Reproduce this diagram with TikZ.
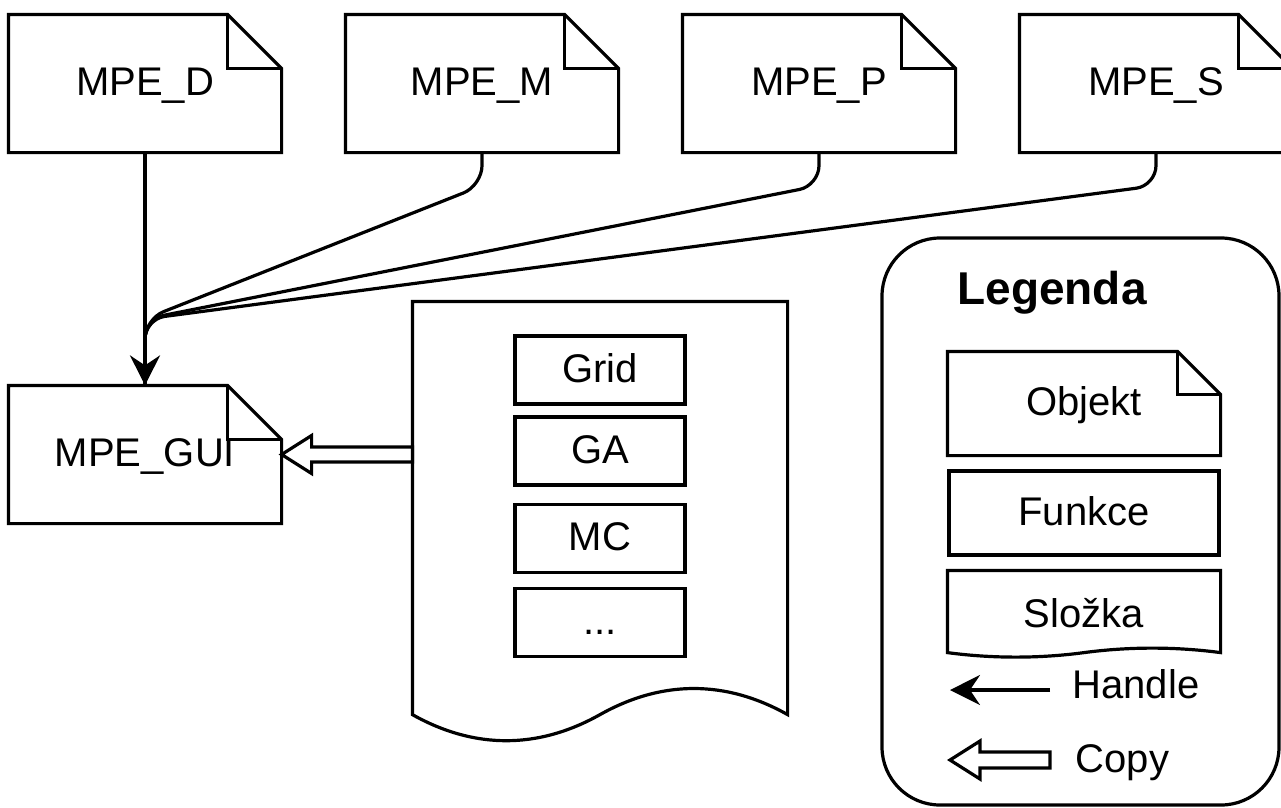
\documentclass[tikz,border=0pt]{standalone}
\usepackage{fontspec}
\setmainfont{Liberation Sans}
\usetikzlibrary{arrows.meta,calc}
\newcommand{\notefold}[2]{%
  \draw (#1.north west) -- ([xshift=-#2]#1.north east) -- ([yshift=-#2]#1.north east) -- (#1.south east) -- (#1.south west) -- cycle;
  \draw ([xshift=-#2]#1.north east) -- ([xshift=-#2,yshift=-#2]#1.north east) -- ([yshift=-#2]#1.north east);
}
\begin{document}
\begin{tikzpicture}[x=1pt,y=-1pt,line width=3.2pt,
  lbl/.style={font=\fontsize{40}{48}\selectfont,text height=28.6pt,text depth=4pt,inner sep=0pt},
  notebox/.style={lbl,minimum width=270pt,minimum height=135pt},
  fbox/.style={lbl,draw,minimum width=170pt,minimum height=68pt},
  handle/.style={-{Stealth[length=30pt,width=30pt,inset=10pt]}},
  copyarr/.style={draw,fill=white,line join=miter},
  link/.style={rounded corners=20pt}]
\useasboundingbox (0,0) rectangle (1281,807);
\clip (0,0) rectangle (1281,807);
% top objects
\node[notebox] (D) at (145,83.5) {MPE\_D};
\node[notebox] (M) at (482,83.5) {MPE\_M};
\node[notebox] (P) at (819,83.5) {MPE\_P};
\node[notebox] (S) at (1156,83.5) {MPE\_S};
\node[notebox] (GUI) at (145,454.5) {MPE\_GUI};
\notefold{D}{54pt}
\notefold{M}{54pt}
\notefold{P}{54pt}
\notefold{S}{54pt}
\notefold{GUI}{54pt}
% connectors
\coordinate (merge) at (145,319);
\draw[link] (M.south) -- ($(M.south)+(0,33)$) -- (merge) -- (GUI.north);
\draw[link] (P.south) -- ($(P.south)+(0,33)$) -- (merge) -- (GUI.north);
\draw[link] (S.south) -- ($(S.south)+(0,33)$) -- (merge) -- (GUI.north);
\draw[handle] (D.south) -- (GUI.north);
% folder
\node[minimum width=372pt,minimum height=410pt,inner sep=0pt] (folder) at (600,508) {};
\draw (folder.north west) -- (folder.north east) -- (folder.south east)
  .. controls ($(folder.south east)+(-62,-34.8)$) and ($(folder.south)+(62,-34.8)$) .. (folder.south)
  .. controls ($(folder.south)+(-62,34.8)$) and ($(folder.south west)+(62,34.8)$) .. (folder.south west) -- cycle;
\node[fbox] (grid) at (600,370) {Grid};
\node[fbox] (ga) at (600,451) {GA};
\node[fbox] (mc) at (600,538.5) {MC};
\node[fbox] (dots) at (600,622.5) {...};
% copy arrow
\coordinate (ca) at (GUI.east);
\coordinate (cb) at (GUI.east -| folder.west);
\draw[copyarr] ($(cb)+(0,-7.5)$) -- ($(ca)+(30,-7.5)$) -- ($(ca)+(30,-19)$) -- (ca) -- ($(ca)+(30,19)$) -- ($(ca)+(30,7.5)$) -- ($(cb)+(0,7.5)$) -- cycle;
% legend
\node[draw,rounded corners=58pt,minimum width=397pt,minimum height=567pt,inner sep=0pt] (legend) at (1080.5,521.5) {};
\node[font=\fontsize{46}{55}\selectfont\bfseries,text height=32.9pt,text depth=0pt,inner sep=0pt] (legtitle) at (1052,288.5) {Legenda};
\node[lbl,minimum width=270pt,minimum height=101pt] (obj) at (1084,403.5) {Objekt};
\notefold{obj}{43pt}
\node[lbl,draw,minimum width=270pt,minimum height=84pt] (fun) at (1084,513) {Funkce};
\node[lbl,text height=31.6pt,text depth=0pt,minimum width=270pt,minimum height=79pt] (slozka) at (1084,611.5) {Složka};
\draw (slozka.north west) -- (slozka.north east) -- (slozka.south east)
  .. controls ($(slozka.south east)+(-45,-6)$) and ($(slozka.south)+(45,-6)$) .. (slozka.south)
  .. controls ($(slozka.south)+(-45,6)$) and ($(slozka.south west)+(45,6)$) .. (slozka.south west) -- cycle;
\node[lbl] (hl) at (1136,686) {Handle};
\coordinate (h1) at (1050,690);
\coordinate (h2) at (950,690);
\draw[handle] (h1) -- (h2);
\node[lbl] (cl) at (1122.5,760) {Copy};
\coordinate (c1) at (1050,760);
\coordinate (c2) at (950,760);
\draw[copyarr] ($(c1)+(0,-8)$) -- ($(c2)+(30,-8)$) -- ($(c2)+(30,-19)$) -- (c2) -- ($(c2)+(30,19)$) -- ($(c2)+(30,8)$) -- ($(c1)+(0,8)$) -- cycle;
\end{tikzpicture}
\end{document}
